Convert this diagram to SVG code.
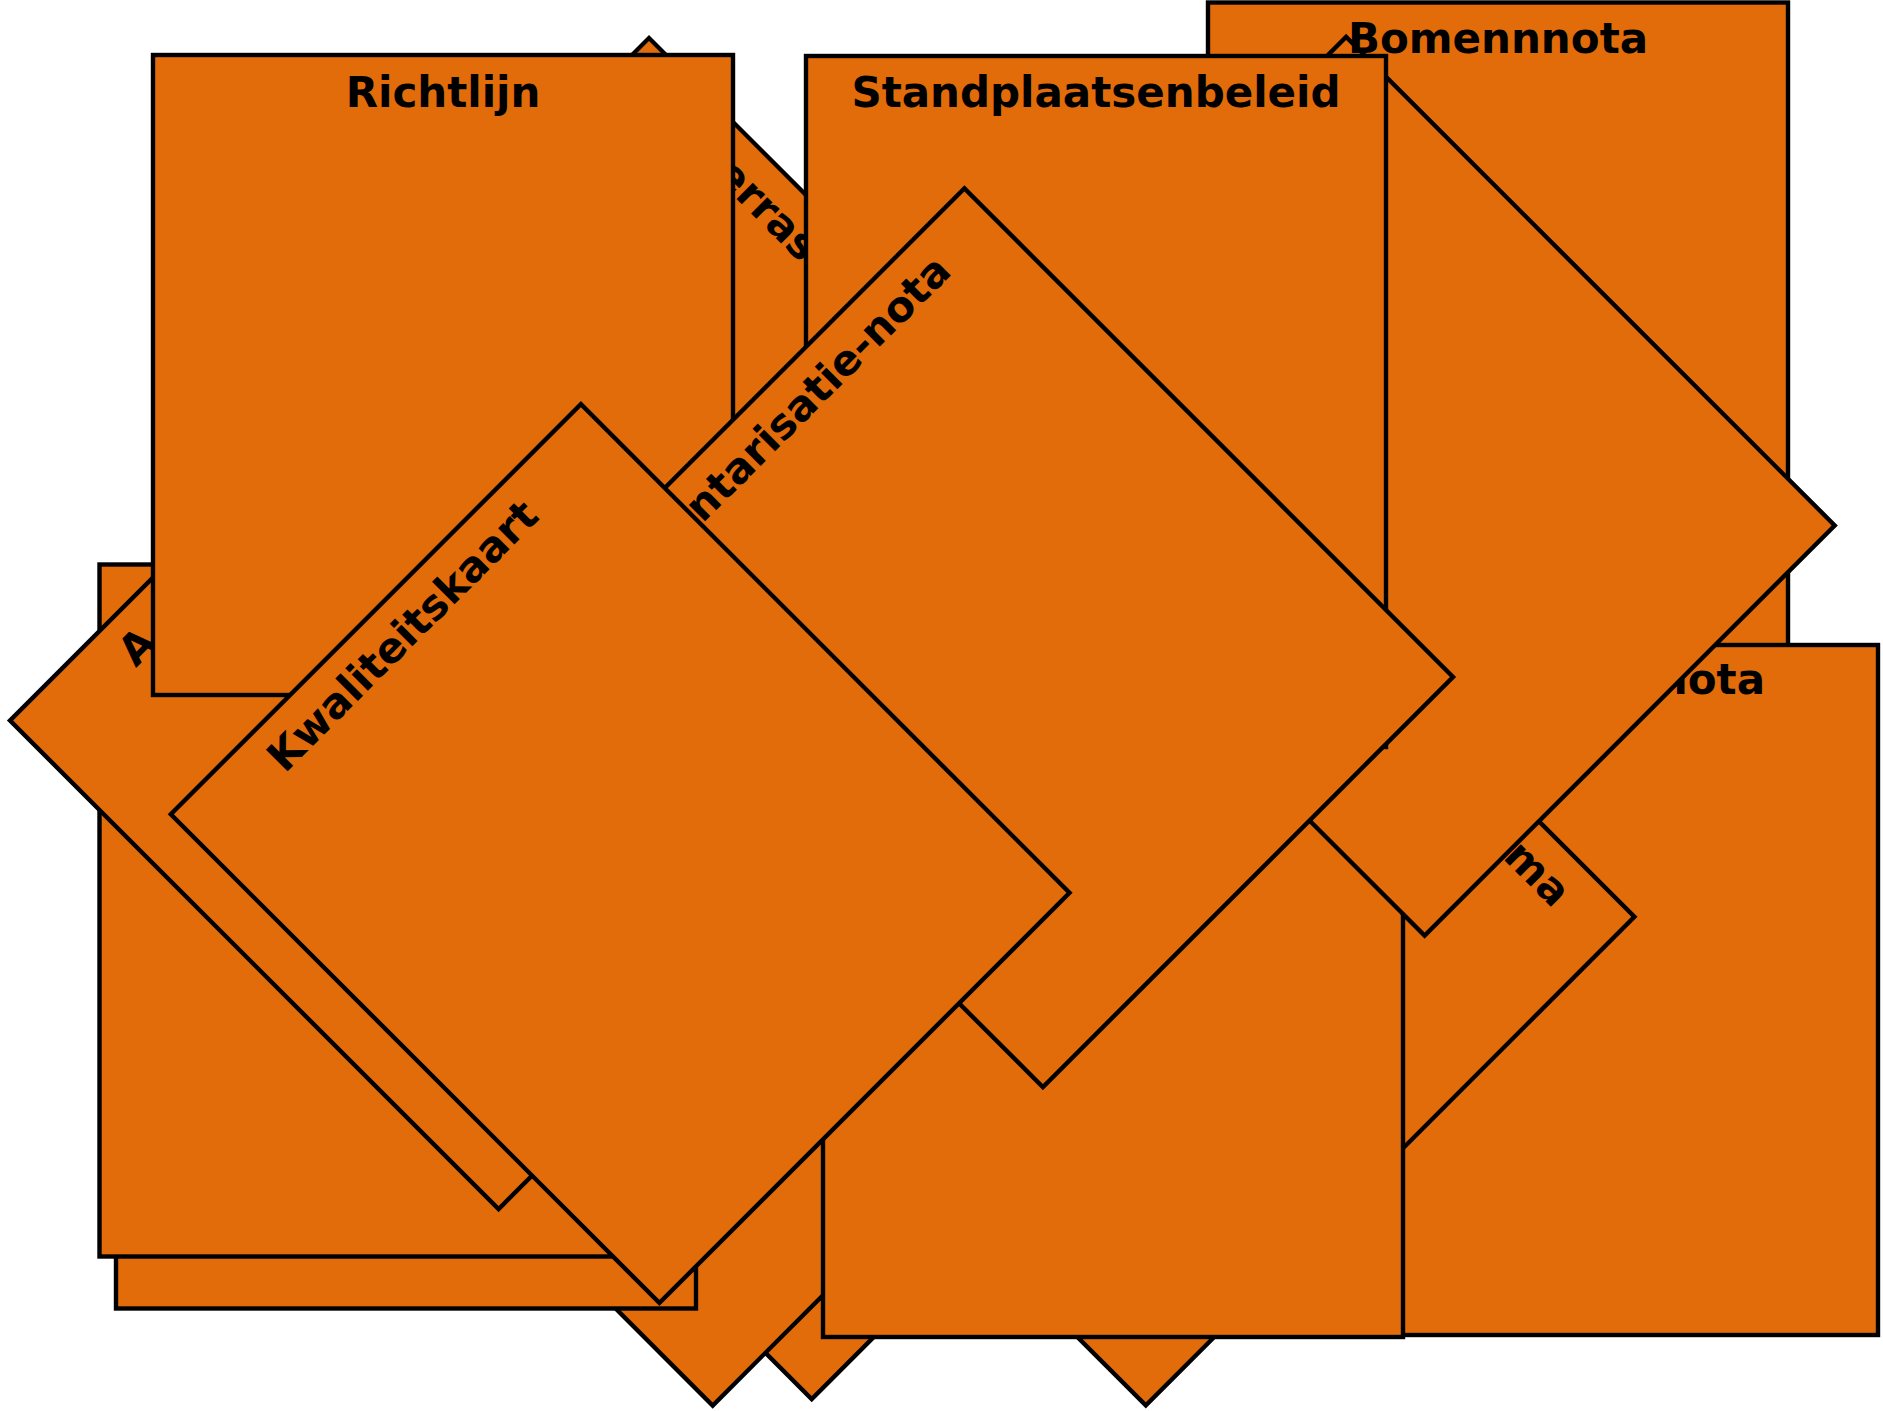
<svg xmlns="http://www.w3.org/2000/svg" width="1883" height="1411" viewBox="0 0 1883 1411">
<style>
.n rect { fill:#E36C0A; stroke:#000; stroke-width:4.4; stroke-linejoin:miter; }
text { font-family:"DejaVu Sans", "Liberation Sans", sans-serif; font-weight:bold; font-size:42px; fill:#000; text-anchor:middle; }
text.e { text-anchor:end; }
text.s { text-anchor:start; }
</style>
<rect width="1883" height="1411" fill="#fff"/>
<g id="connectors"></g>
<g id="bomennnota" class="n" transform="translate(1208,2.5)"><rect width="580" height="691"/></g>
<g id="welstandsnota" class="n" transform="translate(1298,645)"><rect width="580" height="690"/><text class="e" x="467" y="49">nota</text></g>
<g id="node-q" class="n" transform="translate(890.2,500.3) rotate(45)"><rect width="580" height="691"/></g>
<g id="node-p" class="n" transform="translate(791.2,506.8) rotate(45)"><rect width="580" height="691"/></g>
<g id="programma" class="n" transform="translate(1224.3,506.7) rotate(45)"><rect width="580" height="691"/><text class="e" x="517" y="52">ma</text></g>
<g id="node-mid" class="n" transform="translate(823,647)"><rect width="580" height="690"/></g>
<g id="terras" class="n" transform="translate(649,38) rotate(45)"><rect width="580" height="691"/><text class="s" x="143.6" y="52">erras</text></g>
<g id="node-big" class="n" transform="translate(936,447) rotate(-45)"><rect width="580" height="691"/></g>
<g id="bomennnota-label"><text x="1498" y="52.5">Bomennnota</text></g>
<g id="standplaatsenbeleid" class="n" transform="translate(806,56)"><rect width="580" height="691"/><text x="290" y="51">Standplaatsenbeleid</text></g>
<g id="node-r2" class="n" transform="translate(116,618.5)"><rect width="580" height="690"/></g>
<g id="node-r1" class="n" transform="translate(99.5,564.5)"><rect width="580" height="692"/></g>
<g id="node-a" class="n" transform="translate(10,720.5) rotate(-45)"><rect width="580" height="691"/><text class="s" x="126" y="52">A</text></g>
<g id="richtlijn" class="n" transform="translate(153,55)"><rect width="580" height="640"/><text x="290" y="52">Richtlijn</text></g>
<g id="inventarisatie" class="n" transform="translate(554.3,598.5) rotate(-45)"><rect width="580" height="691"/><text class="e" x="512" y="52">ntarisatie-nota</text></g>
<g id="kwaliteitskaart" class="n" transform="translate(170.8,814.3) rotate(-45)"><rect width="580" height="691"/><text x="290" y="52">Kwaliteitskaart</text></g>
</svg>
